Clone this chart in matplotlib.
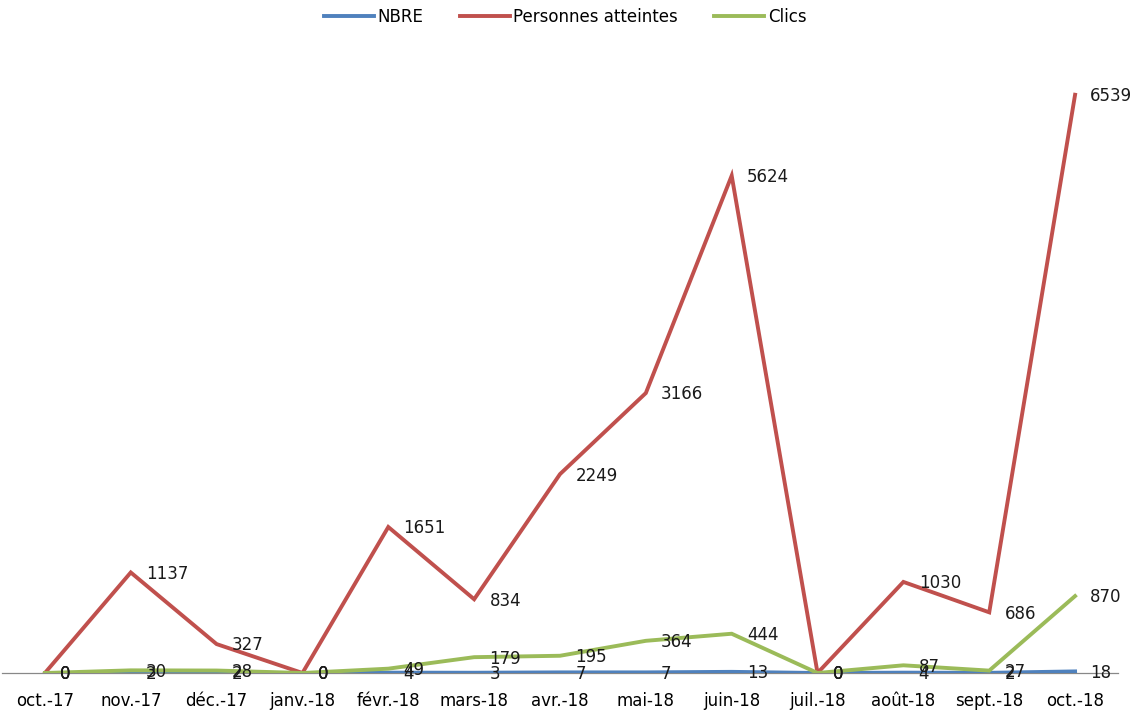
import matplotlib
matplotlib.use("Agg")
import matplotlib.pyplot as plt

months = ["oct.-17", "nov.-17", "déc.-17", "janv.-18", "févr.-18", "mars-18", "avr.-18",
          "mai-18", "juin-18", "juil.-18", "août-18", "sept.-18", "oct.-18"]
nbre = [0, 2, 2, 0, 4, 3, 7, 7, 13, 0, 4, 2, 18]
personnes = [0, 1137, 327, 0, 1651, 834, 2249, 3166, 5624, 0, 1030, 686, 6539]
clics = [0, 30, 28, 0, 49, 179, 195, 364, 444, 0, 87, 27, 870]

W, H = 1132, 715
fig = plt.figure(figsize=(W / 100, H / 100), dpi=100)
ax = fig.add_axes([2 / W, 1 - 673 / H, 1116 / W, (673 - 54) / H])

x = list(range(len(months)))
series = [("NBRE", nbre, "#4F81BD"),
          ("Personnes atteintes", personnes, "#C0504D"),
          ("Clics", clics, "#9BBB59")]

for name, vals, col in series:
    ax.plot(x, vals, color=col, lw=2.8, label=name, solid_joinstyle="miter")

# data labels, right of each point
for name, vals, col in series:
    for i, v in enumerate(vals):
        ax.annotate(str(v), (i, v), xytext=(11, -1), textcoords="offset points",
                    ha="left", va="center", fontsize=12, color="#1a1a1a")

ax.set_xlim(-0.5, len(months) - 0.5)
ax.set_ylim(0, 7000)
ax.set_xticks(x)
ax.set_xticklabels(months, fontsize=12)
ax.tick_params(axis="x", length=0, pad=14)
ax.set_yticks([])
for s in ["top", "right", "left"]:
    ax.spines[s].set_visible(False)
ax.spines["bottom"].set_color("#888888")
ax.spines["bottom"].set_linewidth(0.9)
ax.spines["bottom"].set_zorder(0)

fig.legend(loc="upper center", bbox_to_anchor=(565 / W, 1.01), ncol=3, frameon=False,
           fontsize=12, handlelength=3.0, handletextpad=0.2, columnspacing=2.2)

fig.savefig("out.png", dpi=100)
